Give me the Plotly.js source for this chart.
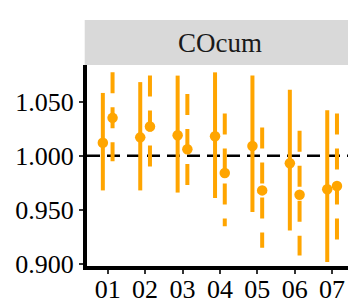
<!DOCTYPE html>
<html>
<head>
<meta charset="utf-8">
<script src="https://cdn.plot.ly/plotly-3.0.1.min.js"></script>
<style>html,body{margin:0;padding:0;background:#fff;}#chart{width:348px;height:304px;}</style>
</head>
<body>
<div id="chart"></div>
<script>
const categories = ["01", "02", "03", "04", "05", "06", "07"];
const solidMid  = [1.012, 1.017, 1.019, 1.018, 1.009, 0.993, 0.969];
const solidLow  = [0.968, 0.968, 0.966, 0.961, 0.948, 0.931, 0.902];
const solidHigh = [1.058, 1.068, 1.074, 1.077, 1.074, 1.061, 1.042];
const dashMid   = [1.035, 1.027, 1.006, 0.984, 0.968, 0.964, 0.972];
const dashLow   = [0.995, 0.982, 0.960, 0.935, 0.915, 0.908, 0.910];
const dashHigh  = [1.077, 1.074, 1.057, 1.039, 1.026, 1.023, 1.039];
const yTicks = [0.900, 0.950, 1.000, 1.050];
const stripLabel = "COcum";

const ORANGE = "#FFA500";
const dodge = 0.13;
const pos = categories.map((c, i) => i + 1);

function rangeTrace(xs, lo, hi, dash, topFirst) {
  const x = [], y = [];
  xs.forEach((xv, i) => {
    x.push(xv, xv, null);
    if (topFirst) y.push(hi[i], lo[i], null); else y.push(lo[i], hi[i], null);
  });
  return {x, y, type: "scatter", mode: "lines", hoverinfo: "skip",
    line: {color: ORANGE, width: 4, dash: dash}, showlegend: false};
}

const xs1 = pos.map(p => p - dodge);
const xs2 = pos.map(p => p + dodge);

const traces = [
  rangeTrace(xs1, solidLow, solidHigh, "solid", false),
  rangeTrace(xs2, dashLow, dashHigh, "21px,14px", true),
  {x: xs1, y: solidMid, type: "scatter", mode: "markers", marker: {color: ORANGE, size: 10.5}, showlegend: false},
  {x: xs2, y: dashMid, type: "scatter", mode: "markers", marker: {color: ORANGE, size: 10.5}, showlegend: false}
];

const fontFam = "Liberation Serif";
const plotL = 87, plotT = 65, plotB = 266, W = 348, H = 304;
const plotH = plotB - plotT, plotW = W - plotL;

const layout = {
  width: W, height: H,
  margin: {l: plotL, r: 0, t: plotT, b: H - plotB, pad: 0},
  paper_bgcolor: "#fff", plot_bgcolor: "#fff",
  showlegend: false,
  font: {family: fontFam, color: "#000", size: 26},
  xaxis: {
    range: [0.4465, 7.425], tickmode: "array", tickvals: pos, ticktext: categories,
    showgrid: false, zeroline: false, showline: true, linecolor: "#000", linewidth: 4,
    ticks: "outside", ticklen: 4, tickwidth: 2, tickcolor: "#333", ticklabelstandoff: -7,
    tickfont: {family: fontFam, size: 26, color: "#000"}, fixedrange: true
  },
  yaxis: {
    range: [0.8982, 1.0838], tickmode: "array", tickvals: yTicks,
    ticktext: yTicks.map(v => v.toFixed(3)),
    showgrid: false, zeroline: false, showline: true, linecolor: "#000", linewidth: 4,
    ticks: "outside", ticklen: 4, tickwidth: 2, tickcolor: "#333",
    tickfont: {family: fontFam, size: 26, color: "#000"}, fixedrange: true
  },
  shapes: [
    {type: "line", xref: "paper", yref: "y", x0: 0, x1: 1, y0: 1, y1: 1, layer: "below",
     line: {color: "#000", width: 2.7, dash: "13px,7px"}},
    {type: "rect", xref: "paper", yref: "paper",
     x0: (84.7 - plotL) / plotW, x1: 1.05, y0: 1, y1: 1 + 45 / plotH,
     fillcolor: "#D9D9D9", line: {width: 0}}
  ],
  annotations: [
    {text: stripLabel, xref: "paper", yref: "paper", x: (220 - plotL) / plotW, y: 1 + 22.5 / plotH,
     showarrow: false, xanchor: "center", yanchor: "middle",
     font: {family: fontFam, size: 27, color: "#1A1A1A"}}
  ]
};

Plotly.newPlot("chart", traces, layout, {staticPlot: true, displayModeBar: false});
</script>
</body>
</html>
